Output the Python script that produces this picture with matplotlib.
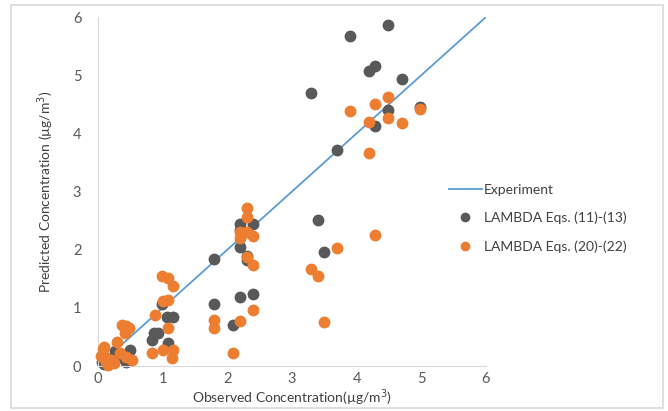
import numpy as np
import matplotlib
matplotlib.use("Agg")
import matplotlib.pyplot as plt
from matplotlib.patches import Rectangle

plt.rcParams['font.family'] = ['Lato', 'DejaVu Sans']

# experiment line (1:1)
exp_x = [0, 6]
exp_y = [0, 6]

# LAMBDA Eqs. (11)-(13)
obs_a = [4.49, 3.89, 4.28, 4.19, 4.70, 3.29, 4.98, 4.49, 4.28, 3.69, 3.40, 3.49,
         1.79, 2.19, 2.39, 2.20, 2.19, 2.30, 2.30, 1.79, 2.19, 2.39, 2.08,
         0.99, 1.06, 1.16, 0.86, 0.93, 0.83, 1.09, 0.49, 0.26, 0.06, 0.44, 0.15,
         0.30, 0.40, 0.10]
pred_a = [5.87, 5.68, 5.16, 5.08, 4.94, 4.69, 4.46, 4.40, 4.13, 3.71, 2.51, 1.96,
          1.84, 2.44, 2.44, 2.34, 2.04, 1.89, 1.82, 1.06, 1.19, 1.24, 0.70,
          1.07, 0.85, 0.85, 0.56, 0.56, 0.45, 0.39, 0.28, 0.25, 0.07, 0.07, 0.12,
          0.18, 0.12, 0.03]

# LAMBDA Eqs. (20)-(22)
obs_b = [4.49, 4.28, 3.89, 4.98, 4.19, 4.49, 4.70, 4.19, 4.28, 3.69, 3.29, 3.40, 3.49,
         2.30, 2.30, 2.20, 2.30, 2.39, 2.20, 2.30, 2.39, 1.79, 1.79, 2.20, 2.39, 2.08,
         0.99, 1.09, 1.16, 1.09, 1.01, 0.88, 1.09, 0.83, 1.01, 1.16, 1.14,
         0.37, 0.44, 0.42, 0.29, 0.08, 0.11, 0.13, 0.34, 0.44, 0.52, 0.20, 0.15,
         0.05, 0.25, 0.48, 0.10]
pred_b = [4.62, 4.51, 4.38, 4.42, 4.20, 4.26, 4.17, 3.66, 2.25, 2.03, 1.66, 1.55, 0.76,
          2.71, 2.56, 2.31, 2.31, 2.24, 2.20, 1.87, 1.74, 0.79, 0.66, 0.78, 0.96, 0.23,
          1.55, 1.52, 1.38, 1.13, 1.12, 0.88, 0.66, 0.22, 0.28, 0.28, 0.14,
          0.70, 0.68, 0.57, 0.42, 0.30, 0.16, 0.07, 0.22, 0.16, 0.10, 0.10, 0.02,
          0.18, 0.05, 0.65, 0.33]

ticks = [0, 1, 2, 3, 4, 5, 6]

fig = plt.figure(figsize=(6.68, 4.11), dpi=100)
fig.patches.append(Rectangle((11/668, 3/411), 652/668, 403/411, transform=fig.transFigure,
                             fill=False, edgecolor='#D9D9D9', linewidth=1.2))
ax = fig.add_axes([98/668, 45/411, 388/668, 349/411])

ax.plot(exp_x, exp_y, color='#5B9BD5', lw=1.3, label='Experiment', zorder=1)
ax.plot(obs_a, pred_a, 'o', color='#595959', ms=7.5, label='LAMBDA Eqs. (11)-(13)',
        clip_on=False, zorder=2)
ax.plot(obs_b, pred_b, 'o', color='#ED7D31', ms=7.5, label='LAMBDA Eqs. (20)-(22)',
        clip_on=False, zorder=3)

ax.set_xlim(0, 6)
ax.set_ylim(0, 6)
ax.set_xticks(ticks)
ax.set_yticks(ticks)
for s in ['top', 'right']:
    ax.spines[s].set_visible(False)
for s in ['left', 'bottom']:
    ax.spines[s].set_color('#D9D9D9')
ax.tick_params(length=0, labelsize=10.5, colors='#595959')
ax.tick_params(axis='y', pad=12)
ax.tick_params(axis='x', pad=4)

ax.set_xlabel('Observed Concentration(µg/m$^3$)', fontsize=10, color='#404040', labelpad=1)
ax.set_ylabel('Predicted Concentration (µg/m$^3$)', fontsize=10, color='#404040', labelpad=12)

ax.legend(loc='upper left', bbox_to_anchor=(436/668, 1 - 171/411),
          bbox_transform=fig.transFigure, frameon=False, fontsize=10,
          handlelength=2.4, labelspacing=1.15, handletextpad=0.15,
          markerscale=0.8, labelcolor='#404040')

fig.savefig('out.png', dpi=100)
